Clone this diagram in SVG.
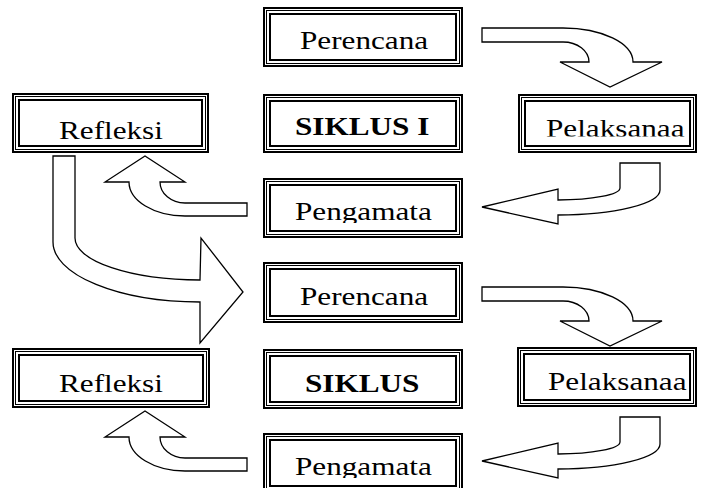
<svg xmlns="http://www.w3.org/2000/svg" width="707" height="488" viewBox="0 0 707 488">
<style>
.o{fill:none;stroke:#000;stroke-width:2}
.m{fill:none;stroke:#000;stroke-width:1}
.i{fill:none;stroke:#000;stroke-width:2}
.t{font-family:"Liberation Serif","Times New Roman",serif;font-size:26px;fill:#000}
.b{font-weight:bold}
.arr{fill:#fff;stroke:#000;stroke-width:1.3;stroke-linejoin:miter}
</style>
<defs>
<clipPath id="c1" clipPathUnits="userSpaceOnUse"><rect x="271" y="7" width="184" height="42.5"/></clipPath>
<clipPath id="c2" clipPathUnits="userSpaceOnUse"><rect x="271" y="94" width="184" height="43"/></clipPath>
<clipPath id="c3" clipPathUnits="userSpaceOnUse"><rect x="526" y="94" width="163" height="42.5"/></clipPath>
<clipPath id="c4" clipPathUnits="userSpaceOnUse"><rect x="20" y="93" width="181" height="46.5"/></clipPath>
<clipPath id="c5" clipPathUnits="userSpaceOnUse"><rect x="271" y="178" width="184" height="45"/></clipPath>
<clipPath id="c6" clipPathUnits="userSpaceOnUse"><rect x="271" y="262" width="184" height="43.5"/></clipPath>
<clipPath id="c7" clipPathUnits="userSpaceOnUse"><rect x="20" y="348" width="182" height="44"/></clipPath>
<clipPath id="c8" clipPathUnits="userSpaceOnUse"><rect x="271" y="349" width="184" height="43"/></clipPath>
<clipPath id="c9" clipPathUnits="userSpaceOnUse"><rect x="525" y="347" width="164" height="43.5"/></clipPath>
<clipPath id="c10" clipPathUnits="userSpaceOnUse"><rect x="271" y="433" width="184" height="45"/></clipPath>
</defs>
<rect x="0" y="0" width="707" height="488" fill="#fff"/>

<g id="connectors">
<path id="a1" class="arr" d="M482,28 L563,28 A70,34 0 0 1 633,62 L662,62 L610,87 L560,62 L589,62 A26,20 0 0 0 563,42 L482,42 Z"/>
<path id="a2" class="arr" d="M620,163 L660,163 L660,190 A102,25 0 0 1 558,215 L558,224 L482,207 L558,189 L558,200 A62,12 0 0 0 620,188 Z"/>
<path id="a3" class="arr" d="M247,203 L247,216 L185,216 A56,34 0 0 1 129,182 L105,182 L145,156 L185,182 L160,182 A25,21 0 0 0 185,203 Z"/>
<path id="a4" class="arr" d="M53,156 L75,156 L75,238 A125,42 0 0 0 200,280 L201,238 L243,292 L200,343 L200,302 A147,60 0 0 1 53,242 Z"/>
<path id="a5" class="arr" transform="translate(0,259)" d="M482,28 L563,28 A70,34 0 0 1 633,62 L662,62 L610,87 L560,62 L589,62 A26,20 0 0 0 563,42 L482,42 Z"/>
<path id="a6" class="arr" transform="translate(0,254)" d="M620,163 L660,163 L660,190 A102,25 0 0 1 558,215 L558,224 L482,207 L558,189 L558,200 A62,12 0 0 0 620,188 Z"/>
<path id="a7" class="arr" transform="translate(0,255)" d="M247,203 L247,216 L185,216 A56,34 0 0 1 129,182 L105,182 L145,156 L185,182 L160,182 A25,21 0 0 0 185,203 Z"/>
</g>

<g id="perencana1">
<rect class="o" x="264" y="8" width="198" height="58"/>
<rect class="m" x="266.5" y="10.5" width="193" height="53"/>
<rect class="i" x="270" y="14" width="186" height="46"/>
<g clip-path="url(#c1)"><text class="t" transform="translate(300,49) scale(1.2,1)">Perencana</text></g>
</g>
<g id="siklus1">
<rect class="o" x="264" y="95" width="198" height="57"/>
<rect class="m" x="266.5" y="97.5" width="193" height="52"/>
<rect class="i" x="270" y="101" width="186" height="45"/>
<g clip-path="url(#c2)"><text class="t b" transform="translate(295,135) scale(1.2,1)">SIKLUS I</text></g>
</g>
<g id="pelaksanaa1">
<rect class="o" x="519" y="95" width="177" height="57"/>
<rect class="m" x="521.5" y="97.5" width="172" height="52"/>
<rect class="i" x="525" y="101" width="165" height="45"/>
<g clip-path="url(#c3)"><text class="t" transform="translate(546,137) scale(1.2,1)">Pelaksanaa</text></g>
</g>
<g id="refleksi1">
<rect class="o" x="13" y="94" width="195" height="58"/>
<rect class="m" x="15.5" y="96.5" width="190" height="53"/>
<rect class="i" x="19" y="100" width="183" height="46"/>
<g clip-path="url(#c4)"><text class="t" transform="translate(59,139) scale(1.2,1)">Refleksi</text></g>
</g>
<g id="pengamata1">
<rect class="o" x="264" y="179" width="198" height="58"/>
<rect class="m" x="266.5" y="181.5" width="193" height="53"/>
<rect class="i" x="270" y="185" width="186" height="46"/>
<g clip-path="url(#c5)"><text class="t" transform="translate(295,220) scale(1.2,1)">Pengamata</text></g>
</g>
<g id="perencana2">
<rect class="o" x="264" y="263" width="198" height="59"/>
<rect class="m" x="266.5" y="265.5" width="193" height="54"/>
<rect class="i" x="270" y="269" width="186" height="47"/>
<g clip-path="url(#c6)"><text class="t" transform="translate(300,304.5) scale(1.2,1)">Perencana</text></g>
</g>
<g id="refleksi2">
<rect class="o" x="13" y="349" width="196" height="58"/>
<rect class="m" x="15.5" y="351.5" width="191" height="53"/>
<rect class="i" x="19" y="355" width="184" height="46"/>
<g clip-path="url(#c7)"><text class="t" transform="translate(59,392) scale(1.2,1)">Refleksi</text></g>
</g>
<g id="siklus2">
<rect class="o" x="264" y="350" width="198" height="58"/>
<rect class="m" x="266.5" y="352.5" width="193" height="53"/>
<rect class="i" x="270" y="356" width="186" height="46"/>
<g clip-path="url(#c8)"><text class="t b" transform="translate(305,391.5) scale(1.2,1)">SIKLUS</text></g>
</g>
<g id="pelaksanaa2">
<rect class="o" x="518" y="348" width="178" height="58"/>
<rect class="m" x="520.5" y="350.5" width="173" height="53"/>
<rect class="i" x="524" y="354" width="166" height="46"/>
<g clip-path="url(#c9)"><text class="t" transform="translate(548,390) scale(1.2,1)">Pelaksanaa</text></g>
</g>
<g id="pengamata2">
<rect class="o" x="264" y="434" width="198" height="58"/>
<rect class="m" x="266.5" y="436.5" width="193" height="53"/>
<rect class="i" x="270" y="440" width="186" height="46"/>
<g clip-path="url(#c10)"><text class="t" transform="translate(295,475) scale(1.2,1)">Pengamata</text></g>
</g>
</svg>
